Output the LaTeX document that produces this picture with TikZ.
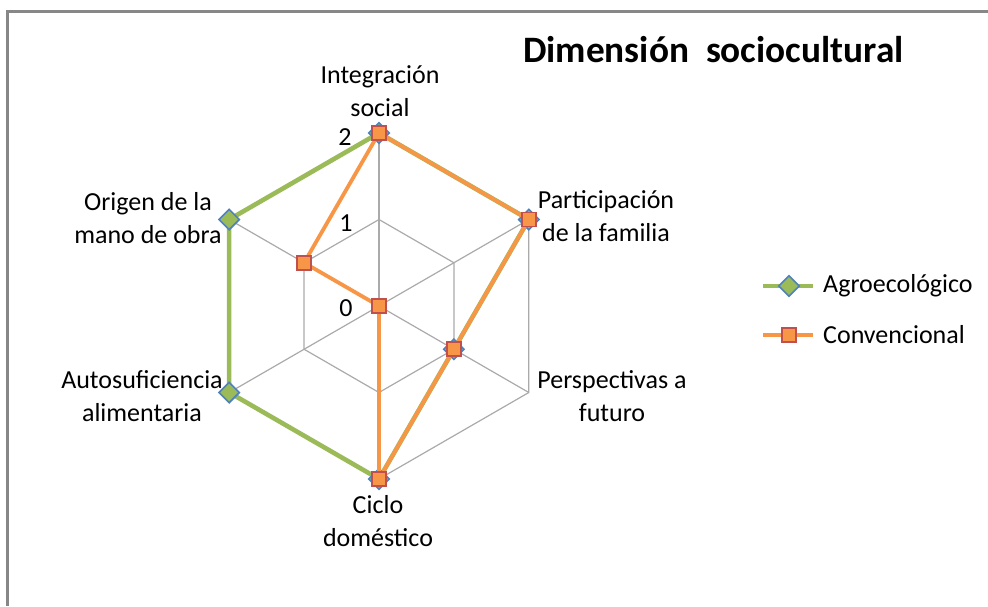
\documentclass[tikz,border=0pt]{standalone}
\usepackage{fontspec}
\setmainfont{Carlito}
\usetikzlibrary{shapes.geometric}
\begin{document}
\begin{tikzpicture}[x=1pt,y=1pt]
\newcommand{\hstep}{74.9}
\newcommand{\vstep}{43.25}
\definecolor{agrocolor}{RGB}{155,187,89}
\definecolor{agroedge}{RGB}{79,129,189}
\definecolor{convcolor}{RGB}{247,150,70}
\definecolor{convedge}{RGB}{192,80,77}
\definecolor{gridcolor}{RGB}{170,170,170}
\definecolor{framecolor}{RGB}{135,135,135}
\tikzstyle{gridline}=[gridcolor,line width=1.2pt]
\tikzstyle{agroline}=[agrocolor,line width=4.6pt,line join=round]
\tikzstyle{convline}=[convcolor,line width=3.8pt,line join=round]
\tikzstyle{agromark}=[diamond,draw=agroedge,fill=agrocolor,line width=1.6pt,minimum size=21pt,inner sep=0pt]
\tikzstyle{convmark}=[rectangle,draw=convedge,fill=convcolor,line width=1.6pt,minimum size=14pt,inner sep=0pt]
\tikzstyle{axislabel}=[align=center,inner sep=0pt,font=\fontsize{26}{32.5}\selectfont]
\tikzstyle{ticklabel}=[inner sep=0pt,font=\fontsize{26}{32.5}\selectfont]
\useasboundingbox (-379,-300) rectangle (609,306);
% frame
\coordinate (f1) at (-371,-300);
\coordinate (f2) at (-371,295);
\coordinate (f3) at (609,295);
\draw[framecolor,line width=3pt] (f1) -- (f2) -- (f3);
% grid points
\coordinate (o) at (0,0);
\coordinate (g10) at (\hstep*0,\vstep*2);
\coordinate (g11) at (\hstep*1,\vstep*1);
\coordinate (g12) at (\hstep*1,\vstep*-1);
\coordinate (g13) at (\hstep*0,\vstep*-2);
\coordinate (g14) at (\hstep*-1,\vstep*-1);
\coordinate (g15) at (\hstep*-1,\vstep*1);
\coordinate (g20) at (\hstep*0,\vstep*4);
\coordinate (g21) at (\hstep*2,\vstep*2);
\coordinate (g22) at (\hstep*2,\vstep*-2);
\coordinate (g23) at (\hstep*0,\vstep*-4);
\coordinate (g24) at (\hstep*-2,\vstep*-2);
\coordinate (g25) at (\hstep*-2,\vstep*2);
\draw[gridline] (g10) -- (g11) -- (g12) -- (g13) -- (g14) -- (g15) -- cycle;
\draw[gridline] (g20) -- (g21) -- (g22) -- (g23) -- (g24) -- (g25) -- cycle;
\draw[gridline] (o) -- (g20);
\draw[gridline] (o) -- (g21);
\draw[gridline] (o) -- (g22);
\draw[gridline] (o) -- (g23);
\draw[gridline] (o) -- (g24);
\draw[gridline] (o) -- (g25);
% tick labels
\node[ticklabel] (t2) at (-34,169) {2};
\node[ticklabel] (t1) at (-33,83) {1};
\node[ticklabel] (t0) at (-33,-2) {0};
% axis labels
\node[axislabel] (integ) at (1,215) {Integración\\social};
\node[axislabel] (partic) at (227,90) {Participación\\de la familia};
\node[axislabel] (persp) at (233,-90) {Perspectivas a\\futuro};
\node[axislabel] (ciclo) at (-1,-215) {Ciclo\\doméstico};
\node[axislabel] (autos) at (-237,-90) {Autosuficiencia\\alimentaria};
\node[axislabel] (origen) at (-231,88) {Origen de la\\mano de obra};
% Agroecologico
\draw[agroline] (g20) -- (g21) -- (g12) -- (g23) -- (g24) -- (g25) -- cycle;
\node[agromark] (a0) at (g20) {};
\node[agromark] (a1) at (g21) {};
\node[agromark] (a2) at (g12) {};
\node[agromark] (a3) at (g23) {};
\node[agromark] (a4) at (g24) {};
\node[agromark] (a5) at (g25) {};
% Convencional
\draw[convline] (g20) -- (g21) -- (g12) -- (g23) -- (o) -- (g15) -- cycle;
\node[convmark] (c0) at (g20) {};
\node[convmark] (c1) at (g21) {};
\node[convmark] (c2) at (g12) {};
\node[convmark] (c3) at (g23) {};
\node[convmark] (c4) at (o) {};
\node[convmark] (c5) at (g15) {};
% title
\node[anchor=west,inner sep=0pt,font=\bfseries\fontsize{37.3}{44}\selectfont] (title) at (144,256) {Dimensión~ sociocultural};
% legend
\coordinate (la1) at (384,20);
\coordinate (la2) at (434,20);
\coordinate (lc1) at (384,-29);
\coordinate (lc2) at (434,-29);
\draw[agroline] (la1) -- (la2);
\node[agromark] (lam) at (410,20) {};
\node[anchor=west,ticklabel] (lat) at (444,20) {Agroecológico};
\draw[convline] (lc1) -- (lc2);
\node[convmark] (lcm) at (410,-29) {};
\node[anchor=west,ticklabel] (lct) at (444,-29) {Convencional};
\end{tikzpicture}
\end{document}
